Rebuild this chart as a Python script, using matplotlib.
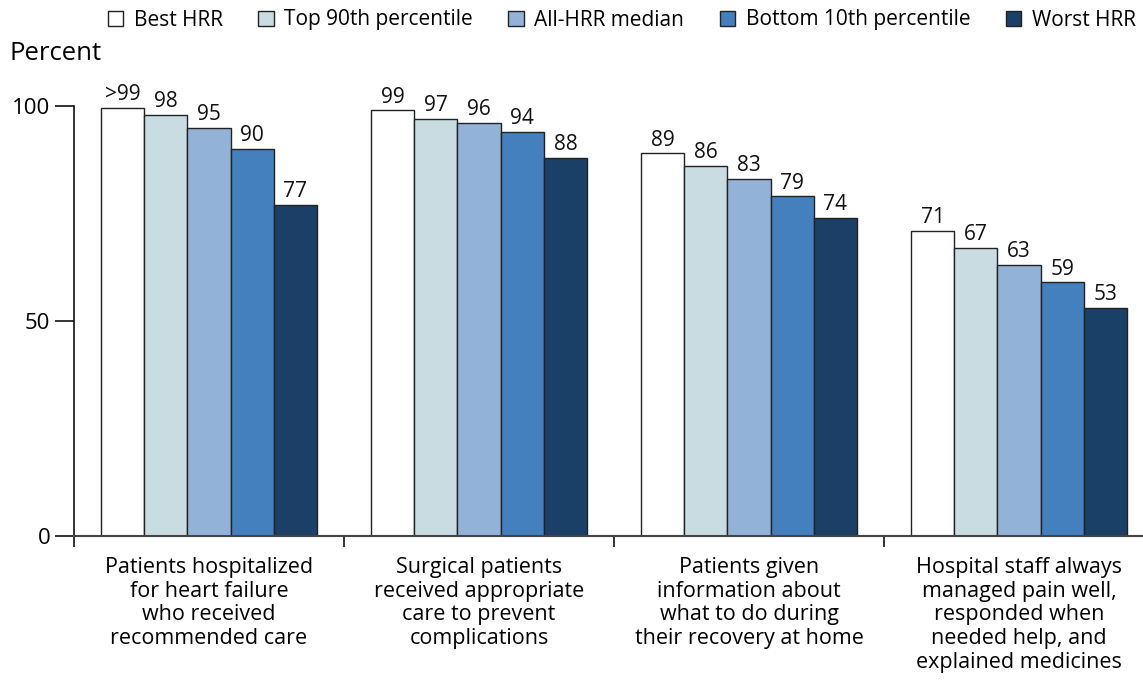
import matplotlib
matplotlib.use("Agg")
import matplotlib.pyplot as plt
from matplotlib.patches import Patch
import numpy as np

plt.rcParams['font.family'] = ['Open Sans', 'DejaVu Sans']

categories = [
    "Patients hospitalized\nfor heart failure\nwho received\nrecommended care",
    "Surgical patients\nreceived appropriate\ncare to prevent\ncomplications",
    "Patients given\ninformation about\nwhat to do during\ntheir recovery at home",
    "Hospital staff always\nmanaged pain well,\nresponded when\nneeded help, and\nexplained medicines",
]
series_names = ["Best HRR", "Top 90th percentile", "All-HRR median",
                "Bottom 10th percentile", "Worst HRR"]
best_hrr = [99.6, 99, 89, 71]
top_90 = [98, 97, 86, 67]
median = [95, 96, 83, 63]
bottom_10 = [90, 94, 79, 59]
worst_hrr = [77, 88, 74, 53]
label_best = [">99", "99", "89", "71"]
series_values = [best_hrr, top_90, median, bottom_10, worst_hrr]
series_labels = [label_best, None, None, None, None]
colors = ["#FFFFFF", "#C9DCE2", "#92B3D7", "#4480BE", "#1A4068"]
y_ticks = [0, 50, 100]

fig = plt.figure(figsize=(11.43, 6.8), dpi=100)
ax = fig.add_axes([74/1143, 144/680, 1 - 74/1143, 430/680])

x = np.arange(len(categories))
width = 0.16
for i, (name, vals) in enumerate(zip(series_names, series_values)):
    pos = x + (i - 2) * width
    bars = ax.bar(pos, vals, width, color=colors[i], edgecolor="#222222",
                  linewidth=1.0, zorder=2)
    labs = series_labels[i] if series_labels[i] else [f"{v:g}" for v in vals]
    for b, lab in zip(bars, labs):
        ax.annotate(lab, (b.get_x() + b.get_width() / 2, b.get_height()),
                    xytext=(0, 2), textcoords="offset points",
                    ha="center", va="bottom", fontsize=15, color="#111111",
                    annotation_clip=False)

ax.set_xlim(-0.5, -0.5 + (1143 - 74) / 270)
ax.set_ylim(0, 100)
for s in ["top", "right"]:
    ax.spines[s].set_visible(False)
ax.spines["left"].set_linewidth(1.2)
ax.spines["left"].set_color("#111111")
ax.spines["bottom"].set_linewidth(1.5)
ax.spines["bottom"].set_color("#444444")

ax.set_yticks(y_ticks)
ax.set_yticklabels([str(t) for t in y_ticks], fontsize=16)
ax.tick_params(axis="y", length=14, width=1.2, pad=3, color="#111111")

ax.set_xticks([-0.5, 0.5, 1.5, 2.5])
ax.set_xticklabels([])
ax.tick_params(axis="x", which="major", direction="out", length=8, width=1.2, color="#111111")
ax.set_xticks(x, minor=True)
ax.set_xticklabels(categories, minor=True, fontsize=15.5, linespacing=1.17)
ax.tick_params(axis="x", which="minor", length=0, pad=15)

fig.text(10/1143, 1 - 54/680, "Percent", fontsize=18.5, va="center", ha="left")

handles = [Patch(facecolor=c, edgecolor="#222222", linewidth=1.0) for c in colors]
fig.legend(handles, series_names, loc="center", bbox_to_anchor=(0.544, 1 - 20/680),
           ncol=5, frameon=False, fontsize=15, handlelength=0.75, handleheight=0.75,
           handletextpad=0.5, columnspacing=1.7)

fig.savefig("out.png", dpi=100)
